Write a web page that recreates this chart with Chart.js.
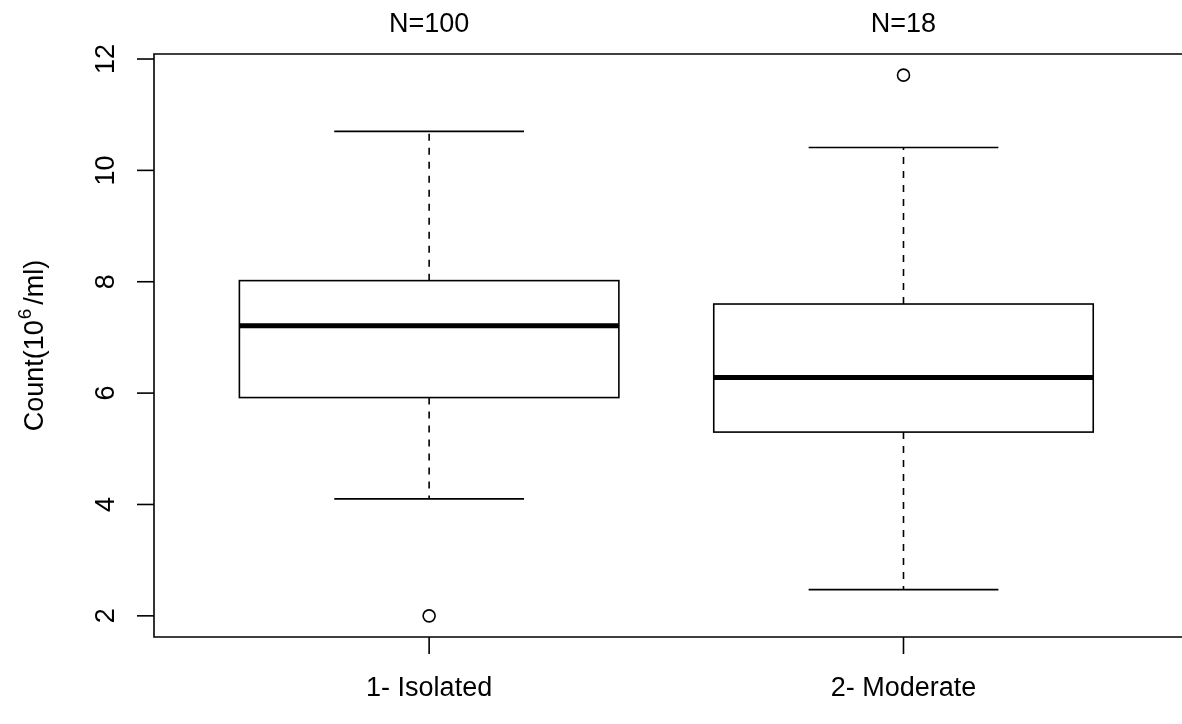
<!DOCTYPE html>
<html>
<head>
<meta charset="utf-8">
<script src="https://cdn.jsdelivr.net/npm/chart.js@4.4.1/dist/chart.umd.min.js"></script>
<style>
  html, body { margin: 0; padding: 0; background: #fff; }
  #wrap { width: 1182px; height: 724px; }
</style>
</head>
<body>
<div id="wrap"><canvas id="box"></canvas></div>
<script>
// groups and their five-number summaries
const groups = ['1- Isolated', '2- Moderate'];
const groupN = [100, 18];
const whiskerLow = [4.10, 2.47];
const q1 = [5.92, 5.30];
const median = [7.21, 6.28];
const q3 = [8.02, 7.60];
const whiskerHigh = [10.70, 10.41];
const outliers = [[2.0], [11.71]];
const yTicks = [2, 4, 6, 8, 10, 12];

const FONT = '27px "Liberation Sans", Arial, sans-serif';
const SUP_FONT = '19px "Liberation Sans", Arial, sans-serif';
const INK = '#000';

const outlierPoints = [];
outliers.forEach((vals, i) => vals.forEach(v => outlierPoints.push({ x: i + 1, y: v })));

// boxes, whiskers, axes and labels drawn from the scales
const boxPlot = {
  id: 'boxPlot',
  beforeDatasetsDraw(chart) {
    const { ctx, scales: { x, y } } = chart;
    const unit = x.getPixelForValue(1) - x.getPixelForValue(0);
    const boxW = 0.8 * unit, capW = 0.4 * unit;
    ctx.save();
    ctx.strokeStyle = INK;
    groups.forEach((g, i) => {
      const cx = x.getPixelForValue(i + 1);
      const yLo = y.getPixelForValue(whiskerLow[i]);
      const yHi = y.getPixelForValue(whiskerHigh[i]);
      const y1 = y.getPixelForValue(q1[i]);
      const y3 = y.getPixelForValue(q3[i]);
      const ym = y.getPixelForValue(median[i]);

      // dashed whiskers
      ctx.lineWidth = 1.6;
      ctx.setLineDash([7, 7]);
      ctx.beginPath();
      ctx.moveTo(cx, y3); ctx.lineTo(cx, yHi);
      ctx.moveTo(cx, y1); ctx.lineTo(cx, yLo);
      ctx.stroke();
      ctx.setLineDash([]);

      // staples
      ctx.beginPath();
      ctx.moveTo(cx - capW / 2, yHi); ctx.lineTo(cx + capW / 2, yHi);
      ctx.moveTo(cx - capW / 2, yLo); ctx.lineTo(cx + capW / 2, yLo);
      ctx.stroke();

      // box
      ctx.strokeRect(cx - boxW / 2, y3, boxW, y1 - y3);

      // median
      ctx.lineWidth = 5;
      ctx.beginPath();
      ctx.moveTo(cx - boxW / 2, ym); ctx.lineTo(cx + boxW / 2, ym);
      ctx.stroke();
    });
    ctx.restore();
  },
  afterDraw(chart) {
    const { ctx, chartArea: a, scales: { x, y } } = chart;
    ctx.save();
    ctx.strokeStyle = INK;
    ctx.fillStyle = INK;
    ctx.lineWidth = 1.6;

    // frame (runs off the right edge)
    ctx.beginPath();
    ctx.moveTo(chart.width + 2, a.top);
    ctx.lineTo(a.left, a.top);
    ctx.lineTo(a.left, a.bottom);
    ctx.lineTo(chart.width + 2, a.bottom);
    ctx.stroke();

    // y axis ticks and rotated labels
    ctx.font = FONT;
    ctx.textAlign = 'center';
    ctx.textBaseline = 'alphabetic';
    yTicks.forEach(v => {
      const py = y.getPixelForValue(v);
      ctx.beginPath();
      ctx.moveTo(a.left - 17, py); ctx.lineTo(a.left, py);
      ctx.stroke();
      ctx.save();
      ctx.translate(a.left - 40, py);
      ctx.rotate(-Math.PI / 2);
      ctx.fillText(String(v), 0, 0);
      ctx.restore();
    });

    // x axis ticks, group names and counts
    groups.forEach((g, i) => {
      const px = x.getPixelForValue(i + 1);
      ctx.beginPath();
      ctx.moveTo(px, a.bottom); ctx.lineTo(px, a.bottom + 17);
      ctx.stroke();
      ctx.textBaseline = 'middle';
      ctx.fillText(g, px, 689);
      ctx.fillText('N=' + groupN[i], px, 25);
    });

    // y axis title with superscript: [text, font, raise, gap after]
    const parts = [['Count(10', FONT, 0, 1], ['6', SUP_FONT, -12, 4], ['/ml)', FONT, 0, 0]];
    let total = 0;
    parts.forEach(p => { ctx.font = p[1]; total += ctx.measureText(p[0]).width + p[3]; });
    ctx.save();
    ctx.translate(43, (a.top + a.bottom) / 2);
    ctx.rotate(-Math.PI / 2);
    ctx.textAlign = 'left';
    ctx.textBaseline = 'alphabetic';
    let off = -total / 2;
    parts.forEach(p => {
      ctx.font = p[1];
      ctx.fillText(p[0], off, p[2]);
      off += ctx.measureText(p[0]).width + p[3];
    });
    ctx.restore();

    ctx.restore();
  }
};

new Chart(document.getElementById('box'), {
  type: 'scatter',
  data: {
    datasets: [{
      data: outlierPoints,
      pointStyle: 'circle',
      pointRadius: 6,
      pointHoverRadius: 6,
      pointBorderWidth: 1.6,
      borderColor: INK,
      backgroundColor: 'rgba(0,0,0,0)'
    }]
  },
  options: {
    responsive: true,
    maintainAspectRatio: false,
    animation: false,
    layout: { padding: { left: 154, top: 54, right: 0, bottom: 87 } },
    plugins: { legend: { display: false }, tooltip: { enabled: false } },
    scales: {
      x: { type: 'linear', min: 0.4200, max: 2.5711, display: false },
      y: { type: 'linear', min: 1.62, max: 12.09, display: false }
    }
  },
  plugins: [boxPlot]
});
</script>
</body>
</html>
